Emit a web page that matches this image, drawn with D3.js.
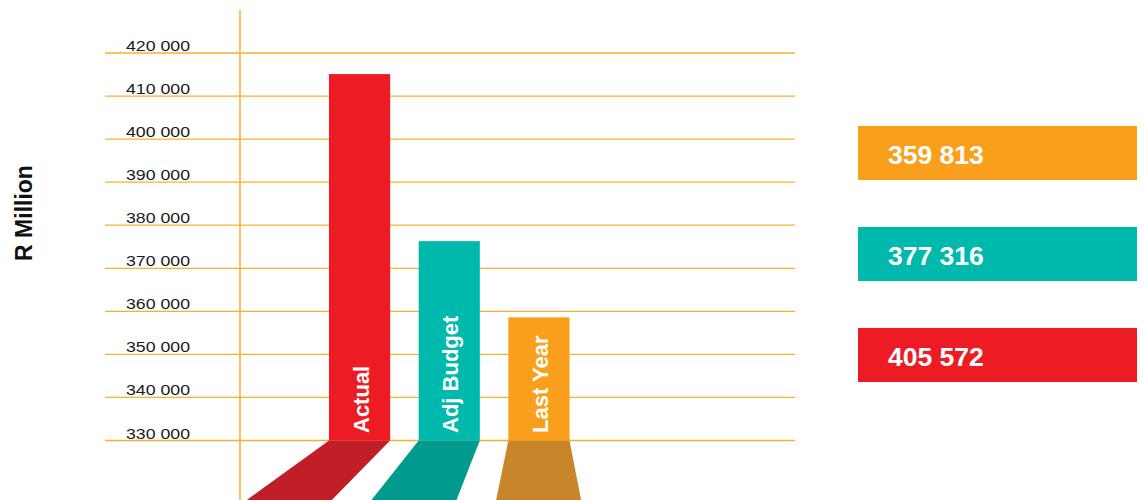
<!DOCTYPE html>
<html><head><meta charset="utf-8">
<script src="https://cdn.jsdelivr.net/npm/d3@7"></script>
<style>body{margin:0;background:#fff;}svg{display:block;font-family:"Liberation Sans",Arial,sans-serif;}</style>
</head><body><svg id="c" width="1144" height="500"></svg>
<script>
const categories = ["Actual", "Adj Budget", "Last Year"];
const barValues = [415100, 376300, 358600];
const boxLabels = ["405 572", "377 316", "359 813"];
const tickValues = [330000, 340000, 350000, 360000, 370000, 380000, 390000, 400000, 410000, 420000];
const colors = ["#ed1c24", "#00b9ad", "#f99f1c"];
const shadowColors = ["#c11f27", "#009b8e", "#c9852a"];

const svg = d3.select("#c");
const y = d3.scaleLinear().domain([330000, 420000]).range([440.5, 53]);
const x = d3.scaleBand().domain(categories).range([329, 569.5]).paddingInner(0.318).paddingOuter(0);
const grid = "#f9b02d";

// grid lines
svg.append("g").selectAll("line").data(tickValues).join("line")
  .attr("x1", 105).attr("x2", 795)
  .attr("y1", d => y(d)).attr("y2", d => y(d))
  .attr("stroke", grid).attr("stroke-width", 1.3);

// tick labels
const fmt = d => d3.format(",")(d).replace(/,/g, " ");
svg.append("g").selectAll("text").data(tickValues).join("text")
  .attr("x", 126).attr("y", d => y(d) - 2)
  .attr("font-size", 15.5).attr("fill", "#1a1a1a")
  .attr("textLength", 64).attr("lengthAdjust", "spacingAndGlyphs")
  .text(fmt);

// vertical axis
svg.append("line").attr("x1", 240).attr("x2", 240).attr("y1", 10).attr("y2", 500)
  .attr("stroke", grid).attr("stroke-width", 1.5);

// shadows (perspective from a vanishing point)
const vp = 539.7, k = 1.39, base = y(330000);
svg.append("g").selectAll("path").data(categories).join("path")
  .attr("d", (c) => {
    const x0 = x(c), x1 = x(c) + x.bandwidth();
    const b0 = vp + (x0 - vp) * k, b1 = vp + (x1 - vp) * k;
    return `M${x0},${base}L${x1},${base}L${b1},500L${b0},500Z`;
  })
  .attr("fill", (c, i) => shadowColors[i]);

// bars
svg.append("g").selectAll("rect").data(categories).join("rect")
  .attr("x", c => x(c)).attr("width", x.bandwidth())
  .attr("y", (c, i) => y(barValues[i]))
  .attr("height", (c, i) => base - y(barValues[i]))
  .attr("fill", (c, i) => colors[i]);

// bar labels
svg.append("g").selectAll("text").data(categories).join("text")
  .attr("transform", c => `translate(${x(c) + x.bandwidth() / 2 + 9},433) rotate(-90)`)
  .attr("font-size", 22).attr("font-weight", "bold").attr("fill", "#fff")
  .text(c => c);

// y title
svg.append("text").attr("transform", "translate(32,213) rotate(-90)")
  .attr("text-anchor", "middle").attr("font-size", 23).attr("font-weight", "bold")
  .attr("fill", "#111").text("R Million");

// right boxes (top to bottom: Last Year, Adj Budget, Actual)
const boxOrder = [2, 1, 0];
const by = d3.scaleBand().domain(boxOrder).range([126, 382]).paddingInner(0.465).paddingOuter(0);
const bxs = svg.append("g").selectAll("g").data(boxOrder).join("g")
  .attr("transform", i => `translate(858,${by(i)})`);
bxs.append("rect").attr("width", 279).attr("height", by.bandwidth()).attr("fill", i => colors[i]);
bxs.append("text").attr("x", 30).attr("y", 38).attr("font-size", 26.5).attr("font-weight", "bold")
  .attr("fill", "#fff").text(i => boxLabels[i]);
</script></body></html>
